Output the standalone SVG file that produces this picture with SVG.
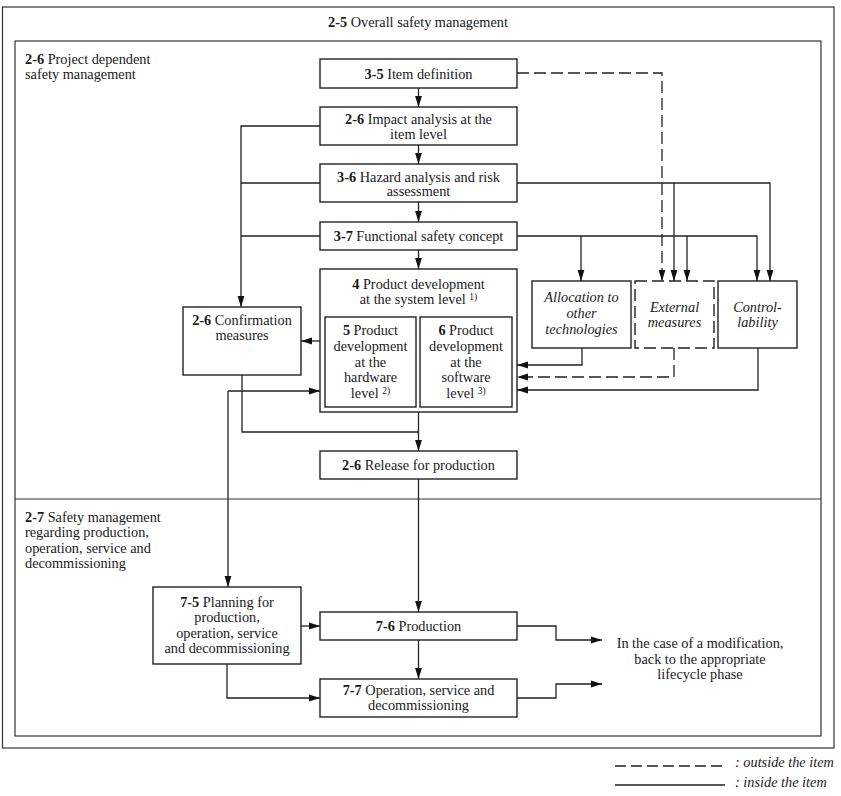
<svg xmlns="http://www.w3.org/2000/svg" width="841" height="796" viewBox="0 0 841 796">
<defs>
<marker id="ah" markerUnits="userSpaceOnUse" markerWidth="11" markerHeight="8" refX="11" refY="4" orient="auto">
<path d="M0,0.6 L11,4 L0,7.4 z" fill="#111"/>
</marker>
<style>
text{font-family:"Liberation Serif","Times New Roman",serif;font-size:14.3px;fill:#1a1a1a}
.c{text-anchor:middle}
.b{font-weight:bold}
.i{font-style:italic}
.sup{font-size:9.5px}
.frame{fill:none;stroke:#333;stroke-width:1.2}
.box{fill:#fff;stroke:#222;stroke-width:1.4}
.dbox{fill:#fff;stroke:#222;stroke-width:1.4;stroke-dasharray:12 5}
.ln{fill:none;stroke:#222;stroke-width:1.3}
.dl{fill:none;stroke:#222;stroke-width:1.3;stroke-dasharray:12 5}
.ar{marker-end:url(#ah)}
</style>
</defs>
<rect width="841" height="796" fill="#fff"/>

<g id="frames">
<rect class="frame" x="2.5" y="7" width="831.5" height="741"/>
<rect class="frame" x="15" y="41" width="806" height="695"/>
<line class="frame" x1="15" y1="499" x2="821" y2="499"/>
<text class="c" x="418" y="27"><tspan class="b">2-5</tspan> Overall safety management</text>
<text x="25" y="63.5"><tspan class="b">2-6</tspan> Project dependent</text>
<text x="25" y="79">safety management</text>
<text x="25" y="521.5"><tspan class="b">2-7</tspan> Safety management</text>
<text x="25" y="536.5">regarding production,</text>
<text x="25" y="552.5">operation, service and</text>
<text x="25" y="567.5">decommissioning</text>
</g>

<g id="connectors">
<line class="ln ar" x1="418.5" y1="88" x2="418.5" y2="107"/>
<line class="ln ar" x1="418.5" y1="145" x2="418.5" y2="164"/>
<line class="ln ar" x1="418.5" y1="202" x2="418.5" y2="222"/>
<line class="ln ar" x1="418.5" y1="250" x2="418.5" y2="269"/>
<polyline class="ln ar" points="320,126 241,126 241,307"/>
<line class="ln" x1="320" y1="183" x2="241" y2="183"/>
<line class="ln" x1="320" y1="236" x2="241" y2="236"/>
<line class="ln ar" x1="320" y1="341" x2="301" y2="341"/>
<polyline class="ln" points="242,375 242,432 418.5,432"/>
<line class="ln ar" x1="418.5" y1="412" x2="418.5" y2="451"/>
<line class="ln ar" x1="228" y1="391" x2="320" y2="391"/>
<line class="ln ar" x1="228" y1="391" x2="228" y2="587"/>
<polyline class="dl ar" points="517,73 662,73 662,281"/>
<polyline class="ln ar" points="517,183 770,183 770,281"/>
<line class="ln ar" x1="674" y1="183" x2="674" y2="281"/>
<polyline class="ln ar" points="517,236 757,236 757,281"/>
<line class="ln ar" x1="581" y1="236" x2="581" y2="281"/>
<line class="ln ar" x1="687" y1="236" x2="687" y2="281"/>
<polyline class="ln ar" points="582,348 582,365 517,365"/>
<polyline class="dl ar" points="674,348 674,377 517,377"/>
<polyline class="ln ar" points="758,348 758,390 517,390"/>
<line class="ln ar" x1="418.5" y1="479" x2="418.5" y2="612"/>
<line class="ln ar" x1="301" y1="626" x2="320" y2="626"/>
<polyline class="ln ar" points="227,664 227,698 320,698"/>
<line class="ln ar" x1="418.5" y1="640" x2="418.5" y2="679"/>
<polyline class="ln ar" points="517,626 556,626 556,640 602,640"/>
<polyline class="ln ar" points="517,698 556,698 556,684 602,684"/>
</g>

<g id="item-definition">
<rect class="box" x="320" y="59" width="197" height="29"/>
<text class="c" x="418.5" y="78.5"><tspan class="b">3-5</tspan> Item definition</text>
</g>
<g id="impact-analysis">
<rect class="box" x="320" y="107" width="197" height="38"/>
<text class="c" x="418.5" y="123.5"><tspan class="b">2-6</tspan> Impact analysis at the</text>
<text class="c" x="418.5" y="139">item level</text>
</g>
<g id="hazard-analysis">
<rect class="box" x="320" y="164" width="197" height="38"/>
<text class="c" x="418.5" y="181.5"><tspan class="b">3-6</tspan> Hazard analysis and risk</text>
<text class="c" x="418.5" y="196">assessment</text>
</g>
<g id="functional-safety-concept">
<rect class="box" x="320" y="222" width="197" height="28"/>
<text class="c" x="418.5" y="241"><tspan class="b">3-7</tspan> Functional safety concept</text>
</g>
<g id="system-level">
<rect class="box" x="320" y="269" width="197" height="143"/>
<text class="c" x="418.5" y="289"><tspan class="b">4</tspan> Product development</text>
<text class="c" x="418.5" y="304">at the system level <tspan class="sup" dy="-4">1)</tspan></text>
</g>
<g id="hardware-level">
<rect class="box" x="325" y="317" width="91" height="90"/>
<text class="c" x="370.5" y="335"><tspan class="b">5</tspan> Product</text>
<text class="c" x="370.5" y="351">development</text>
<text class="c" x="370.5" y="367">at the</text>
<text class="c" x="370.5" y="382">hardware</text>
<text class="c" x="370.5" y="398">level <tspan class="sup" dy="-4">2)</tspan></text>
</g>
<g id="software-level">
<rect class="box" x="420" y="317" width="92" height="90"/>
<text class="c" x="466" y="335"><tspan class="b">6</tspan> Product</text>
<text class="c" x="466" y="351">development</text>
<text class="c" x="466" y="367">at the</text>
<text class="c" x="466" y="382">software</text>
<text class="c" x="466" y="398">level <tspan class="sup" dy="-4">3)</tspan></text>
</g>
<g id="confirmation-measures">
<rect class="box" x="183" y="307" width="118" height="68"/>
<text class="c" x="242" y="325"><tspan class="b">2-6</tspan> Confirmation</text>
<text class="c" x="242" y="340">measures</text>
</g>
<g id="allocation">
<rect class="box" x="532" y="281" width="99" height="67"/>
<text class="c i" x="581.5" y="302">Allocation to</text>
<text class="c i" x="581.5" y="318">other</text>
<text class="c i" x="581.5" y="334">technologies</text>
</g>
<g id="external-measures">
<rect class="dbox" x="635" y="281" width="79" height="67"/>
<text class="c i" x="674.5" y="312">External</text>
<text class="c i" x="674.5" y="327">measures</text>
</g>
<g id="controllability">
<rect class="box" x="718" y="281" width="79" height="67"/>
<text class="c i" x="757.5" y="312">Control-</text>
<text class="c i" x="757.5" y="327">lability</text>
</g>
<g id="release">
<rect class="box" x="320" y="451" width="197" height="28"/>
<text class="c" x="418.5" y="469.5"><tspan class="b">2-6</tspan> Release for production</text>
</g>
<g id="planning">
<rect class="box" x="153" y="587" width="148" height="77"/>
<text class="c" x="227" y="607"><tspan class="b">7-5</tspan> Planning for</text>
<text class="c" x="227" y="622">production,</text>
<text class="c" x="227" y="638">operation, service</text>
<text class="c" x="227" y="653">and decommissioning</text>
</g>
<g id="production">
<rect class="box" x="320" y="612" width="197" height="28"/>
<text class="c" x="418.5" y="631"><tspan class="b">7-6</tspan> Production</text>
</g>
<g id="operation">
<rect class="box" x="320" y="679" width="197" height="38"/>
<text class="c" x="418.5" y="695"><tspan class="b">7-7</tspan> Operation, service and</text>
<text class="c" x="418.5" y="710">decommissioning</text>
</g>
<g id="modification-note">
<text class="c" x="700" y="648">In the case of a modification,</text>
<text class="c" x="700" y="664">back to the appropriate</text>
<text class="c" x="700" y="679">lifecycle phase</text>
</g>
<g id="legend">
<line class="ln" x1="615" y1="766" x2="725" y2="766" stroke-dasharray="11 5"/>
<text class="i" x="735" y="767">: outside the item</text>
<line class="ln" x1="615" y1="785" x2="725" y2="785"/>
<text class="i" x="735" y="786.5">: inside the item</text>
</g>
</svg>
